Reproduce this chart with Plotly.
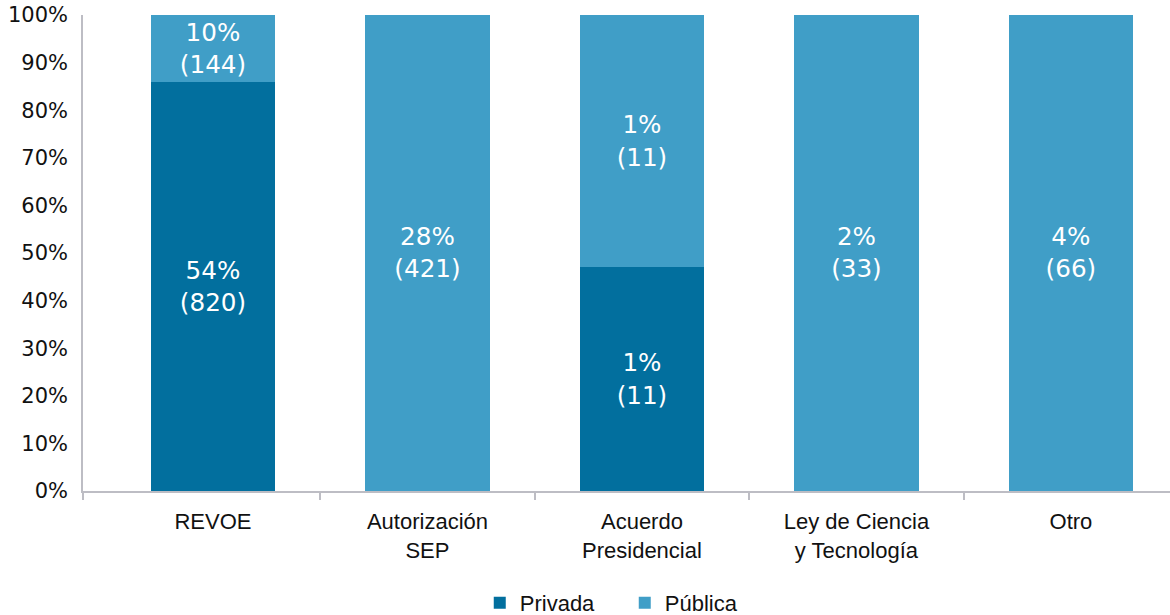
import plotly.graph_objects as go

categories = ["REVOE", "Autorización<br>SEP", "Acuerdo<br>Presidencial", "Ley de Ciencia<br>y Tecnología", "Otro"]

# share of each bar (percent of the category)
privada_share = [86, 0, 47, 0, 0]
publica_share = [14, 100, 53, 100, 100]

# labels: percent of grand total and count
privada_pct = ["54%", "", "1%", "", ""]
privada_n = [820, None, 11, None, None]
publica_pct = ["10%", "28%", "1%", "2%", "4%"]
publica_n = [144, 421, 11, 33, 66]

y_ticks = [0, 10, 20, 30, 40, 50, 60, 70, 80, 90, 100]

DARK = "#026F9E"
LIGHT = "#409EC7"
FONT = "Liberation Sans, Arial, sans-serif"
NUM_FONT = "DejaVu Sans, sans-serif"


def _labels(pcts, counts):
    return [f"{p}<br>({n})" if n is not None else "" for p, n in zip(pcts, counts)]


x_pos = list(range(len(categories)))

fig = go.Figure()
for name, share, pcts, counts, color in [
    ("Privada", privada_share, privada_pct, privada_n, DARK),
    ("Pública", publica_share, publica_pct, publica_n, LIGHT),
]:
    fig.add_trace(
        go.Bar(
            x=x_pos,
            y=share,
            name=name,
            marker={"color": color, "line": {"width": 0}},
            text=_labels(pcts, counts),
            textposition="inside",
            insidetextanchor="middle",
            textangle=0,
            textfont={"color": "white", "size": 25, "family": NUM_FONT},
            width=0.58,
        )
    )

fig.update_layout(
    barmode="stack",
    width=1170,
    height=615,
    paper_bgcolor="white",
    plot_bgcolor="white",
    font={"family": FONT, "size": 22, "color": "#111111"},
    margin={"l": 83, "r": 0, "t": 15, "b": 124, "autoexpand": False},
    uniformtext={"mode": "show", "minsize": 10},
    showlegend=True,
    legend={
        "orientation": "h",
        "traceorder": "normal",
        "x": 0.365,
        "xanchor": "left",
        "y": -0.235,
        "yanchor": "middle",
        "font": {"size": 22},
        "itemwidth": 30,
        "entrywidth": 100,
        "entrywidthmode": "pixels",
    },
)
fig.update_xaxes(
    range=[-0.606, 4.462],
    tickmode="array",
    tickvals=x_pos,
    ticktext=categories,
    tickfont={"size": 22},
    ticks="",
    showline=True,
    linecolor="#BDBDC4",
    linewidth=1.5,
    showgrid=False,
    zeroline=False,
    automargin=False,
    ticklabelstandoff=10,
    minor={
        "tickmode": "array",
        "tickvals": [-0.606, 0.5, 1.5, 2.5, 3.5],
        "ticks": "outside",
        "ticklen": 7,
        "tickcolor": "#BDBDC4",
        "tickwidth": 1.5,
        "showgrid": False,
    },
)
fig.update_yaxes(
    range=[0, 100],
    tickmode="array",
    tickvals=y_ticks,
    ticktext=[f"{v}%" for v in y_ticks],
    tickfont={"size": 21, "family": NUM_FONT},
    showline=True,
    linecolor="#BDBDC4",
    linewidth=1.5,
    showgrid=False,
    zeroline=False,
    automargin=False,
    ticks="",
    ticklabelstandoff=9,
    ticklabeloverflow="allow",
)

# drop the default page margin so the figure sits at the window's corner
fig.write_html(
    "out.html",
    config={"displayModeBar": False},
    post_script="document.body.style.margin = '0';",
)
